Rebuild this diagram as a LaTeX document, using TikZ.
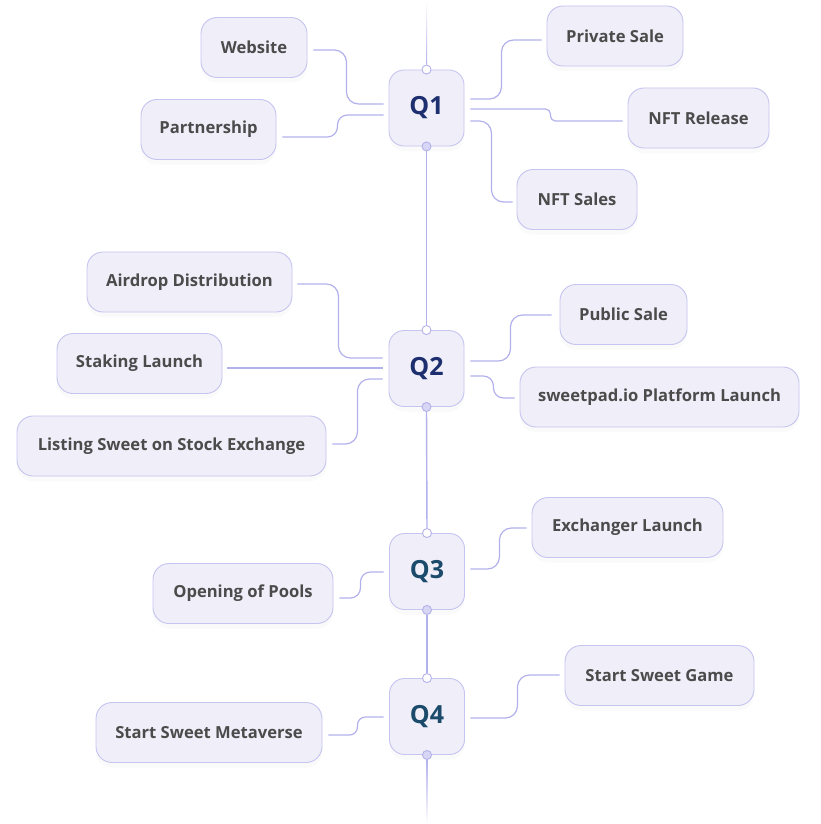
\documentclass[tikz,border=0pt]{standalone}
\usepackage{fontspec}
\setmainfont{Open Sans}
\usepackage{xcolor}
\usepackage{tikz}
\usetikzlibrary{shadows}

\definecolor{boxfill}{HTML}{EFEEF9}
\definecolor{boxline}{HTML}{C6C4F0}
\definecolor{linkclr}{HTML}{B3B1EC}
\definecolor{textclr}{HTML}{4B4B4B}
\definecolor{qnavy}{HTML}{1E2F6F}
\definecolor{qteal}{HTML}{1B4A6B}

\begin{document}
\begin{tikzpicture}[
    x=1pt, y=-1pt,
    box/.style={rectangle, rounded corners=16pt, draw=boxline, line width=0.9pt, fill=boxfill,
        minimum height=60pt, inner sep=0pt, text=textclr, font=\fontsize{16.6}{18}\selectfont\bfseries,
        drop shadow={shadow xshift=0pt, shadow yshift=-5pt, opacity=.04}},
    qbox/.style={box, rounded corners=15pt, minimum width=75pt, minimum height=76pt,
        font=\fontsize{25}{28}\selectfont\bfseries},
    link/.style={draw=linkclr, line width=1.2pt, rounded corners=12pt},
    spine/.style={draw=linkclr, line width=1.4pt},
    dotin/.style={circle, draw=linkclr, fill=white, line width=0.9pt, minimum size=9pt, inner sep=0pt},
    dotout/.style={dotin, fill=boxline!70}
]
\fill[white] (0,0) rectangle (821,824);
\useasboundingbox (0,0) rectangle (821,824);

% quarters
\node[qbox, text=qnavy] (q1) at (426.5,108) {Q1};
\node[qbox, text=qnavy] (q2) at (426.5,368.5) {Q2};
\node[qbox, text=qteal] (q3) at (427,571.5) {Q3};
\node[qbox, text=qteal] (q4) at (427,716.5) {Q4};

% Q1 tasks
\node[box, minimum width=106pt] (web) at (254,47.5) {Website};
\node[box, minimum width=135pt] (part) at (208.5,129.5) {Partnership};
\node[box, minimum width=136pt] (priv) at (615,36) {Private Sale};
\node[box, minimum width=141pt] (nftr) at (698.5,118) {NFT Release};
\node[box, minimum width=120pt] (nfts) at (577,199.5) {NFT Sales};

% Q2 tasks
\node[box, minimum width=205pt] (air) at (189.5,282) {Airdrop Distribution};
\node[box, minimum width=165pt] (stak) at (139.5,363.5) {Staking Launch};
\node[box, minimum width=309pt] (list) at (171.5,446) {Listing Sweet on Stock Exchange};
\node[box, minimum width=127pt] (pub) at (623.5,314.5) {Public Sale};
\node[box, minimum width=279pt] (swp) at (659.5,397) {sweetpad.io Platform Launch};

% Q3 tasks
\node[box, minimum width=191pt] (exch) at (627.5,527.5) {Exchanger Launch};
\node[box, minimum width=180pt] (pool) at (243,593.5) {Opening of Pools};

% Q4 tasks
\node[box, minimum width=189pt] (game) at (659.5,675.5) {Start Sweet Game};
\node[box, minimum width=226pt] (meta) at (209,732.5) {Start Sweet Metaverse};

% spine
\coordinate (top) at (427,0);
\coordinate (bottom) at (427,824);
\foreach \q in {q1,q2,q3,q4}{
    \node[dotin] (\q in) at (\q.north) {};
    \node[dotout] (\q out) at (\q.south) {};
}
\shade[top color=white, bottom color=linkclr] ([xshift=-0.7pt]top) rectangle ([xshift=0.7pt]q1in.north);
\draw[spine] (q1out) -- (q2in);
\draw[spine] (q2out) -- (q3in);
\draw[spine] (q3out) -- (q4in);
\shade[top color=linkclr, bottom color=white] ([xshift=-0.7pt]q4out.south) rectangle ([xshift=0.7pt]bottom);

% Q1 links
\draw[link] ([xshift=6pt,yshift=-2.5pt]web.east) -- ++(33,0) |- ([xshift=-5pt,yshift=4pt]q1.west);
\draw[link, rounded corners=10pt] ([xshift=6pt,yshift=-7.5pt]part.east) -- ++(55,0) |- ([xshift=-5pt,yshift=-7pt]q1.west);
\draw[link] ([xshift=6pt,yshift=9pt]q1.east) -- ++(31,0) |- ([xshift=-5pt,yshift=-4pt]priv.west);
\draw[link, rounded corners=5pt] ([xshift=6pt,yshift=-1pt]q1.east) -- ++(80,0) |- ([xshift=-5pt,yshift=-3pt]nftr.west);
\draw[link] ([xshift=6pt,yshift=-13pt]q1.east) -- ++(21,0) |- ([xshift=-4pt,yshift=-2.5pt]nfts.west);

% Q2 links
\draw[link] ([xshift=5pt,yshift=-2pt]air.east) -- ++(41,0) |- ([xshift=-6pt,yshift=10.5pt]q2.west);
\draw[link] ([xshift=5pt,yshift=-4.5pt]stak.east) -- ([xshift=-6pt,yshift=0.5pt]q2.west);
\draw[link] ([xshift=6pt,yshift=2pt]list.east) -- ++(25,0) |- ([xshift=-6pt,yshift=-10.5pt]q2.west);
\draw[link] ([xshift=6pt,yshift=7.5pt]q2.east) -- ++(40,0) |- ([xshift=-8pt,yshift=-0.5pt]pub.west);
\draw[link, rounded corners=10pt] ([xshift=6pt,yshift=-7.5pt]q2.east) -- ++(23,0) |- ([xshift=-5pt,yshift=-1pt]swp.west);

% Q3 links
\draw[link] ([xshift=5.5pt,yshift=2.5pt]q3.east) -- ++(29,0) |- ([xshift=-5pt,yshift=-0.5pt]exch.west);
\draw[link, rounded corners=10pt] ([xshift=6pt,yshift=-4.5pt]pool.east) -- ++(21,0) |- ([xshift=-5.5pt,yshift=-0.5pt]q3.west);

% Q4 links
\draw[link] ([xshift=5.5pt,yshift=-1.5pt]q4.east) -- ++(47,0) |- ([xshift=-5pt,yshift=0.5pt]game.west);
\draw[link, rounded corners=8pt] ([xshift=6pt,yshift=-2.5pt]meta.east) -- ++(29,0) |- ([xshift=-5.5pt,yshift=-0.5pt]q4.west);
\end{tikzpicture}
\end{document}
